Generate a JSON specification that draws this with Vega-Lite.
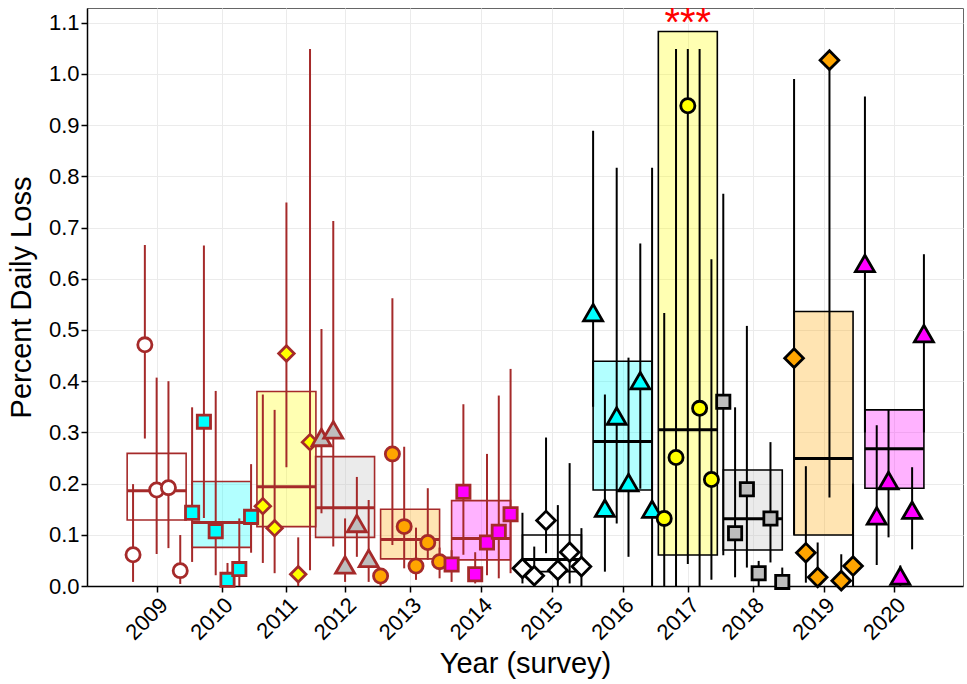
{
  "$schema": "https://vega.github.io/schema/vega-lite/v6.json",
  "width": 876,
  "height": 578,
  "autosize": {"type": "none"},
  "padding": {"left": 87, "top": 8, "right": 4, "bottom": 98},
  "background": "white",
  "datasets": {
    "summary": [
      {"year": 2009, "survey": 2009.5, "q1": 0.129, "median": 0.186, "q3": 0.259},
      {"year": 2010, "survey": 2010.468, "q1": 0.0755, "median": 0.124, "q3": 0.204},
      {"year": 2011, "survey": 2011.434, "q1": 0.116, "median": 0.194, "q3": 0.38},
      {"year": 2012, "survey": 2012.308, "q1": 0.095, "median": 0.153, "q3": 0.2526},
      {"year": 2013, "survey": 2013.277, "q1": 0.053, "median": 0.091, "q3": 0.15},
      {"year": 2014, "survey": 2014.335, "q1": 0.051, "median": 0.093, "q3": 0.1667},
      {"year": 2015, "survey": 2015.391, "q1": 0.028, "median": 0.052, "q3": 0.0996},
      {"year": 2016, "survey": 2016.444, "q1": 0.1875, "median": 0.282, "q3": 0.439},
      {"year": 2017, "survey": 2017.416, "q1": 0.0605, "median": 0.305, "q3": 1.083},
      {"year": 2018, "survey": 2018.384, "q1": 0.0703, "median": 0.1315, "q3": 0.2266},
      {"year": 2019, "survey": 2019.439, "q1": 0.0996, "median": 0.249, "q3": 0.536},
      {"year": 2020, "survey": 2020.495, "q1": 0.191, "median": 0.268, "q3": 0.344}
    ],
    "sites": [
      {"year": 2009, "site": 1, "loss": 0.061, "lower": 0.008, "upper": 0.199},
      {"year": 2009, "site": 2, "loss": 0.471, "lower": 0.288, "upper": 0.666},
      {"year": 2009, "site": 3, "loss": 0.1875, "lower": 0.0625, "upper": 0.407},
      {"year": 2009, "site": 4, "loss": 0.192, "lower": 0.074, "upper": 0.4},
      {"year": 2009, "site": 5, "loss": 0.03, "lower": 0.004, "upper": 0.0996},
      {"year": 2010, "site": 1, "loss": 0.143, "lower": 0.047, "upper": 0.349},
      {"year": 2010, "site": 2, "loss": 0.321, "lower": 0.133, "upper": 0.665},
      {"year": 2010, "site": 3, "loss": 0.107, "lower": 0.021, "upper": 0.381},
      {"year": 2010, "site": 4, "loss": 0.012, "lower": 0.0, "upper": 0.045},
      {"year": 2010, "site": 5, "loss": 0.033, "lower": 0.0, "upper": 0.132},
      {"year": 2010, "site": 6, "loss": 0.135, "lower": 0.065, "upper": 0.238},
      {"year": 2011, "site": 1, "loss": 0.156, "lower": 0.045, "upper": 0.374},
      {"year": 2011, "site": 2, "loss": 0.113, "lower": 0.025, "upper": 0.344},
      {"year": 2011, "site": 3, "loss": 0.454, "lower": 0.232, "upper": 0.749},
      {"year": 2011, "site": 4, "loss": 0.023, "lower": 0.0, "upper": 0.095},
      {"year": 2011, "site": 5, "loss": 0.281, "lower": 0.031, "upper": 1.049},
      {"year": 2012, "site": 1, "loss": 0.29, "lower": 0.142, "upper": 0.502},
      {"year": 2012, "site": 2, "loss": 0.305, "lower": 0.077, "upper": 0.713},
      {"year": 2012, "site": 3, "loss": 0.041, "lower": 0.008, "upper": 0.132},
      {"year": 2012, "site": 4, "loss": 0.122, "lower": 0.057, "upper": 0.213},
      {"year": 2012, "site": 5, "loss": 0.054, "lower": 0.008, "upper": 0.168},
      {"year": 2013, "site": 1, "loss": 0.0195, "lower": 0.0, "upper": 0.03},
      {"year": 2013, "site": 2, "loss": 0.258, "lower": 0.08, "upper": 0.562},
      {"year": 2013, "site": 3, "loss": 0.116, "lower": 0.0345, "upper": 0.272},
      {"year": 2013, "site": 4, "loss": 0.039, "lower": 0.012, "upper": 0.114},
      {"year": 2013, "site": 5, "loss": 0.085, "lower": 0.051, "upper": 0.191},
      {"year": 2013, "site": 6, "loss": 0.0475, "lower": 0.015, "upper": 0.075},
      {"year": 2014, "site": 1, "loss": 0.042, "lower": 0.008, "upper": 0.07},
      {"year": 2014, "site": 2, "loss": 0.184, "lower": 0.061, "upper": 0.355},
      {"year": 2014, "site": 3, "loss": 0.023, "lower": 0.005, "upper": 0.066},
      {"year": 2014, "site": 4, "loss": 0.085, "lower": 0.021, "upper": 0.258},
      {"year": 2014, "site": 5, "loss": 0.106, "lower": 0.015, "upper": 0.372},
      {"year": 2014, "site": 6, "loss": 0.14, "lower": 0.025, "upper": 0.424},
      {"year": 2015, "site": 1, "loss": 0.0345, "lower": 0.005, "upper": 0.143},
      {"year": 2015, "site": 2, "loss": 0.02, "lower": 0.0, "upper": 0.077},
      {"year": 2015, "site": 3, "loss": 0.128, "lower": 0.064, "upper": 0.29},
      {"year": 2015, "site": 4, "loss": 0.031, "lower": 0.0, "upper": 0.158},
      {"year": 2015, "site": 5, "loss": 0.066, "lower": 0.005, "upper": 0.24},
      {"year": 2015, "site": 6, "loss": 0.038, "lower": 0.0, "upper": 0.113},
      {"year": 2016, "site": 1, "loss": 0.534, "lower": 0.35, "upper": 0.889},
      {"year": 2016, "site": 2, "loss": 0.152, "lower": 0.028, "upper": 0.374},
      {"year": 2016, "site": 3, "loss": 0.332, "lower": 0.122, "upper": 0.817},
      {"year": 2016, "site": 4, "loss": 0.202, "lower": 0.057, "upper": 0.446},
      {"year": 2016, "site": 5, "loss": 0.401, "lower": 0.19, "upper": 0.669},
      {"year": 2016, "site": 6, "loss": 0.15, "lower": 0.0, "upper": 0.817},
      {"year": 2017, "site": 1, "loss": 0.132, "lower": 0.0, "upper": 0.533},
      {"year": 2017, "site": 2, "loss": 0.251, "lower": 0.0, "upper": 1.049},
      {"year": 2017, "site": 3, "loss": 0.938, "lower": 0.043, "upper": 1.049},
      {"year": 2017, "site": 4, "loss": 0.347, "lower": 0.0, "upper": 1.049},
      {"year": 2017, "site": 5, "loss": 0.208, "lower": 0.012, "upper": 0.638},
      {"year": 2018, "site": 1, "loss": 0.36, "lower": 0.06, "upper": 0.766},
      {"year": 2018, "site": 2, "loss": 0.103, "lower": 0.017, "upper": 0.349},
      {"year": 2018, "site": 3, "loss": 0.189, "lower": 0.036, "upper": 0.508},
      {"year": 2018, "site": 4, "loss": 0.025, "lower": 0.0, "upper": 0.049},
      {"year": 2018, "site": 5, "loss": 0.132, "lower": 0.046, "upper": 0.281},
      {"year": 2018, "site": 6, "loss": 0.008, "lower": 0.0, "upper": 0.036},
      {"year": 2019, "site": 1, "loss": 0.445, "lower": 0.1, "upper": 0.99},
      {"year": 2019, "site": 2, "loss": 0.065, "lower": 0.0065, "upper": 0.234},
      {"year": 2019, "site": 3, "loss": 0.017, "lower": 0.0, "upper": 0.085},
      {"year": 2019, "site": 4, "loss": 1.027, "lower": 0.173, "upper": 1.027},
      {"year": 2019, "site": 5, "loss": 0.0104, "lower": 0.0, "upper": 0.062},
      {"year": 2019, "site": 6, "loss": 0.039, "lower": 0.0, "upper": 0.2},
      {"year": 2020, "site": 1, "loss": 0.63, "lower": 0.3, "upper": 0.956},
      {"year": 2020, "site": 2, "loss": 0.137, "lower": 0.041, "upper": 0.314},
      {"year": 2020, "site": 3, "loss": 0.206, "lower": 0.095, "upper": 0.344},
      {"year": 2020, "site": 4, "loss": 0.0195, "lower": 0.0, "upper": 0.04},
      {"year": 2020, "site": 5, "loss": 0.148, "lower": 0.0716, "upper": 0.232},
      {"year": 2020, "site": 6, "loss": 0.493, "lower": 0.3, "upper": 0.648}
    ],
    "notes": [
      {"year": 2017, "label": "***", "y": 1.075}
    ]
  },
  "layer": [
    {
      "data": {"name": "summary"},
      "transform": [
        {"calculate": "datum.survey - 0.4395", "as": "left"},
        {"calculate": "datum.survey + 0.4395", "as": "right"}
      ],
      "mark": {"type": "rect", "fillOpacity": 0.3, "strokeWidth": 1.6},
      "encoding": {
        "x": {
          "field": "left", "type": "quantitative", "title": "Year (survey)",
          "scale": {"domain": [2008.462, 2021.517], "nice": false, "zero": false},
          "axis": {
            "values": [2009.5, 2010.468, 2011.434, 2012.308, 2013.277, 2014.335, 2015.391, 2016.444, 2017.416, 2018.384, 2019.439, 2020.495],
            "labelExpr": "floor(datum.value)",
            "labelAngle": -45,
            "labelAlign": "right",
            "labelBaseline": "top",
            "labelPadding": 2,
            "labelOverlap": false,
            "labelBound": false,
            "labelFlush": false,
            "titlePadding": 6,
            "grid": true
          }
        },
        "x2": {"field": "right"},
        "y": {
          "field": "q1", "type": "quantitative", "title": "Percent Daily Loss",
          "scale": {"domain": [0, 1.1289], "nice": false},
          "axis": {
            "values": [0, 0.1, 0.2, 0.3, 0.4, 0.5, 0.6, 0.7, 0.8, 0.9, 1.0, 1.1],
            "format": ".1f",
            "labelPadding": 2,
            "titlePadding": 12,
            "grid": true
          }
        },
        "y2": {"field": "q3"},
        "fill": {
          "field": "year", "type": "nominal",
          "scale": {"domain": [2009, 2010, 2011, 2012, 2013, 2014, 2015, 2016, 2017, 2018, 2019, 2020], "range": ["#FFFFFF", "#00FFFF", "#FFFF00", "#BEBEBE", "#FFA500", "#FF00FF", "#FFFFFF", "#00FFFF", "#FFFF00", "#BEBEBE", "#FFA500", "#FF00FF"]}
        },
        "stroke": {
          "field": "year", "type": "nominal",
          "scale": {"domain": [2009, 2010, 2011, 2012, 2013, 2014, 2015, 2016, 2017, 2018, 2019, 2020], "range": ["#A52A2A", "#A52A2A", "#A52A2A", "#A52A2A", "#A52A2A", "#A52A2A", "#000000", "#000000", "#000000", "#000000", "#000000", "#000000"]}
        }
      }
    },
    {
      "data": {"name": "sites"},
      "transform": [
        {"lookup": "year", "from": {"data": {"name": "summary"}, "key": "year", "fields": ["survey"]}},
        {"joinaggregate": [{"op": "count", "as": "n"}], "groupby": ["year"]},
        {"calculate": "datum.survey + (datum.site - (datum.n + 1) / 2) * 0.1758", "as": "pos"}
      ],
      "mark": {"type": "rule", "strokeWidth": 2},
      "encoding": {
        "x": {"field": "pos", "type": "quantitative", "title": "Year (survey)"},
        "y": {"field": "lower", "type": "quantitative", "title": "Percent Daily Loss"},
        "y2": {"field": "upper"},
        "stroke": {
          "field": "year", "type": "nominal",
          "scale": {"domain": [2009, 2010, 2011, 2012, 2013, 2014, 2015, 2016, 2017, 2018, 2019, 2020], "range": ["#A52A2A", "#A52A2A", "#A52A2A", "#A52A2A", "#A52A2A", "#A52A2A", "#000000", "#000000", "#000000", "#000000", "#000000", "#000000"]}
        }
      }
    },
    {
      "data": {"name": "summary"},
      "transform": [
        {"calculate": "datum.survey - 0.4395", "as": "left"},
        {"calculate": "datum.survey + 0.4395", "as": "right"}
      ],
      "mark": {"type": "rule", "strokeWidth": 3},
      "encoding": {
        "x": {"field": "left", "type": "quantitative", "title": "Year (survey)"},
        "x2": {"field": "right"},
        "y": {"field": "median", "type": "quantitative", "title": "Percent Daily Loss"},
        "stroke": {
          "field": "year", "type": "nominal",
          "scale": {"domain": [2009, 2010, 2011, 2012, 2013, 2014, 2015, 2016, 2017, 2018, 2019, 2020], "range": ["#A52A2A", "#A52A2A", "#A52A2A", "#A52A2A", "#A52A2A", "#A52A2A", "#000000", "#000000", "#000000", "#000000", "#000000", "#000000"]}
        }
      }
    },
    {
      "data": {"name": "sites"},
      "transform": [
        {"lookup": "year", "from": {"data": {"name": "summary"}, "key": "year", "fields": ["survey"]}},
        {"joinaggregate": [{"op": "count", "as": "n"}], "groupby": ["year"]},
        {"calculate": "datum.survey + (datum.site - (datum.n + 1) / 2) * 0.1758", "as": "pos"}
      ],
      "mark": {"type": "point", "filled": true, "opacity": 1, "fillOpacity": 1, "strokeOpacity": 1, "strokeWidth": 2.8},
      "encoding": {
        "x": {"field": "pos", "type": "quantitative", "title": "Year (survey)"},
        "y": {"field": "loss", "type": "quantitative", "title": "Percent Daily Loss"},
        "fill": {
          "field": "year", "type": "nominal",
          "scale": {"domain": [2009, 2010, 2011, 2012, 2013, 2014, 2015, 2016, 2017, 2018, 2019, 2020], "range": ["#FFFFFF", "#00FFFF", "#FFFF00", "#BEBEBE", "#FFA500", "#FF00FF", "#FFFFFF", "#00FFFF", "#FFFF00", "#BEBEBE", "#FFA500", "#FF00FF"]}
        },
        "stroke": {
          "field": "year", "type": "nominal",
          "scale": {"domain": [2009, 2010, 2011, 2012, 2013, 2014, 2015, 2016, 2017, 2018, 2019, 2020], "range": ["#A52A2A", "#A52A2A", "#A52A2A", "#A52A2A", "#A52A2A", "#A52A2A", "#000000", "#000000", "#000000", "#000000", "#000000", "#000000"]}
        },
        "shape": {
          "field": "year", "type": "nominal",
          "scale": {"domain": [2009, 2010, 2011, 2012, 2013, 2014, 2015, 2016, 2017, 2018, 2019, 2020], "range": ["circle", "square", "diamond", "triangle-up", "circle", "square", "diamond", "triangle-up", "circle", "square", "diamond", "triangle-up"]}
        },
        "size": {
          "condition": [
            {"test": "datum.year == 2009 || datum.year == 2013 || datum.year == 2017", "value": 200},
            {"test": "datum.year == 2010 || datum.year == 2014 || datum.year == 2018", "value": 175},
            {"test": "datum.year == 2011", "value": 240},
            {"test": "datum.year == 2015 || datum.year == 2019", "value": 350}
          ],
          "value": 360
        }
      }
    },
    {
      "data": {"name": "notes"},
      "transform": [
        {"lookup": "year", "from": {"data": {"name": "summary"}, "key": "year", "fields": ["survey"]}}
      ],
      "mark": {"type": "text", "color": "#FF0000", "fontSize": 40, "align": "center", "baseline": "alphabetic", "font": "Liberation Sans"},
      "encoding": {
        "x": {"field": "survey", "type": "quantitative", "title": "Year (survey)"},
        "y": {"field": "y", "type": "quantitative", "title": "Percent Daily Loss"},
        "text": {"field": "label"}
      }
    }
  ],
  "config": {
    "font": "Liberation Sans",
    "view": {"stroke": "#666666", "strokeWidth": 1},
    "legend": {"disable": true},
    "axis": {
      "gridColor": "#EBEBEB",
      "gridWidth": 1,
      "domainColor": "#000000",
      "domainWidth": 1.5,
      "tickColor": "#000000",
      "tickWidth": 1.5,
      "tickSize": 6,
      "labelColor": "#000000",
      "labelFont": "Liberation Sans",
      "labelFontSize": 22,
      "titleFont": "Liberation Sans",
      "titleFontSize": 29,
      "titleFontWeight": "normal",
      "titleColor": "#000000"
    }
  }
}
